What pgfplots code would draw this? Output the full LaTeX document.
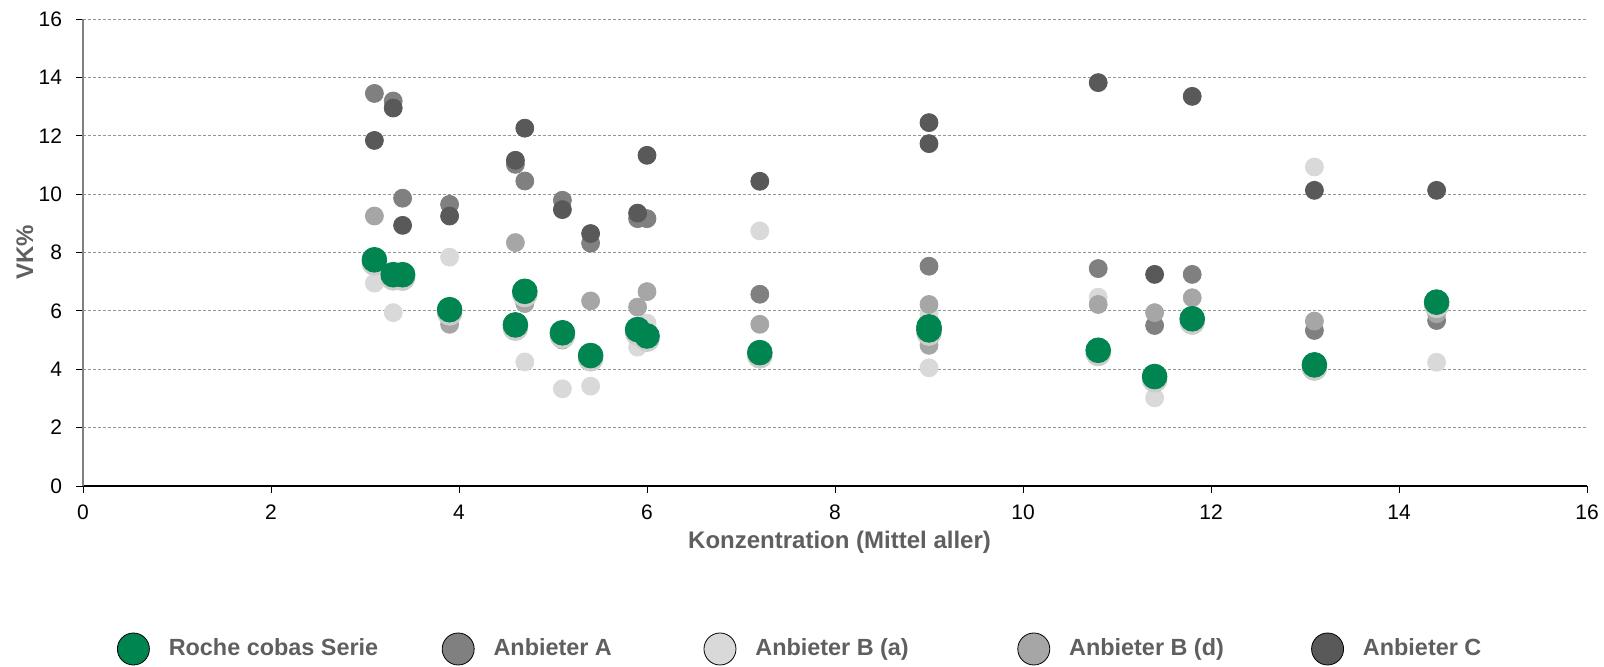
\documentclass[border=0pt]{standalone}
\usepackage{fontspec}
\setmainfont{Liberation Sans}
\usepackage{pgfplots}
\pgfplotsset{compat=1.18}
\usepackage{pgfplotstable}

\definecolor{roche}{RGB}{0,133,80}
\definecolor{cA}{RGB}{128,128,128}
\definecolor{cBa}{RGB}{217,217,217}
\definecolor{cBd}{RGB}{166,166,166}
\definecolor{cC}{RGB}{89,89,89}
\definecolor{shadowgray}{RGB}{205,205,205}
\definecolor{labelgray}{RGB}{95,95,95}
\definecolor{gridgray}{RGB}{150,150,150}

% x = Konzentration (Mittel aller), one row per sample
\pgfplotstableread{
x     roche  A      Ba     Bd     C
3.1   7.75   13.45  6.95   9.25   11.84
3.3   7.24   13.19  5.94   7.05   12.95
3.4   7.24   9.86   7.00   7.10   8.93
3.9   6.04   9.65   7.84   5.54   9.25
4.6   5.52   11.02  5.30   8.34   11.16
4.7   6.67   10.45  4.25   6.25   12.26
5.1   5.25   9.79   3.33   5.00   9.47
5.4   4.47   8.32   3.42   6.34   8.65
5.9   5.36   9.16   4.76   6.13   9.35
6.0   5.14   9.16   5.58   6.66   11.33
7.2   4.57   6.57   8.74   5.54   10.44
9.0   5.45   7.53   5.90   6.22   12.45
9.0   5.35   5.10   4.05   4.82   11.73
10.8  4.65   7.45   6.47   6.22   13.82
11.4  3.75   5.50   3.02   5.94   7.25
11.8  5.73   7.25   5.50   6.45   13.35
13.1  4.15   5.33   10.93  5.65   10.13
14.4  6.30   5.67   4.24   5.90   10.13
}\vkdata

\begin{document}
\begin{tikzpicture}
\useasboundingbox (0,0) rectangle (802pt,333pt);
\begin{axis}[
    at={(41.5pt,90pt)}, anchor=south west,
    scale only axis, width=752pt, height=233.5pt,
    xmin=0, xmax=16, ymin=0, ymax=16,
    xtick={0,2,...,16}, ytick={0,2,...,16},
    axis x line*=bottom, axis y line*=left,
    x axis line style={black, line width=0.6pt, -},
    y axis line style={cA, line width=0.9pt, -},
    tick align=outside, major tick length=3.5pt,
    tick style={black, line width=0.5pt},
    ymajorgrids,
    major grid style={gridgray, line width=0.5pt, dash pattern=on 1.5pt off 1pt},
    /pgf/number format/assume math mode=true,
    tick label style={font=\fontsize{10.5}{12}\selectfont, text=black},
    xticklabel style={yshift=-2.3pt},
    yticklabel style={xshift=-3.5pt},
    label style={font=\fontsize{12}{14}\selectfont\bfseries, text=labelgray},
    xlabel={Konzentration (Mittel aller)},
    ylabel={VK\%},
    xlabel style={at={(axis description cs:0.503,-0.12)}, anchor=center},
    ylabel style={at={(axis description cs:-0.0386,0.5)}, anchor=center},
    legend columns=5,
    legend cell align=left,
    legend image code/.code={\fill[#1] (0pt,0pt) circle (8pt);},
    legend style={at={(axis description cs:0.0226,-0.349)}, anchor=west,
        draw=none, fill=none, inner sep=0pt, outer sep=0pt,
        column sep=0pt, row sep=0pt,
        nodes={inner sep=0pt, outer sep=0pt},
        font=\fontsize{11.7}{14}\selectfont\bfseries, text=labelgray},
    clip=false,
]
% legend in reference order
\addlegendimage{fill=roche}
\addlegendentry{\hspace*{9.5pt}\makebox[136.5pt][l]{Roche cobas Serie}}
\addlegendimage{fill=cA}
\addlegendentry{\hspace*{9.5pt}\makebox[105pt][l]{Anbieter A}}
\addlegendimage{fill=cBa}
\addlegendentry{\hspace*{9.5pt}\makebox[131pt][l]{Anbieter B (a)}}
\addlegendimage{fill=cBd}
\addlegendentry{\hspace*{9.5pt}\makebox[121pt][l]{Anbieter B (d)}}
\addlegendimage{fill=cC}
\addlegendentry{\hspace*{9.5pt}Anbieter C}

% drawing order: A, B(a), B(d), C, then Roche on top
\addplot[forget plot, color=cA, only marks, mark=*, mark size=4.5pt]
    table[x=x, y=A] {\vkdata};
\addplot[forget plot, color=cBa, only marks, mark=*, mark size=4.5pt]
    table[x=x, y=Ba] {\vkdata};
\addplot[forget plot, color=cBd, only marks, mark=*, mark size=4.5pt]
    table[x=x, y=Bd] {\vkdata};
\addplot[forget plot, color=cC, only marks, mark=*, mark size=4.5pt]
    table[x=x, y=C] {\vkdata};
% soft shadow under the Roche marks
\addplot[forget plot, color=shadowgray, only marks, mark=*, mark size=6.2pt, mark options={yshift=-1.6pt}]
    table[x=x, y=roche] {\vkdata};
\addplot[forget plot, color=roche, only marks, mark=*, mark size=6.2pt]
    table[x=x, y=roche] {\vkdata};
\end{axis}
\end{tikzpicture}
\end{document}
